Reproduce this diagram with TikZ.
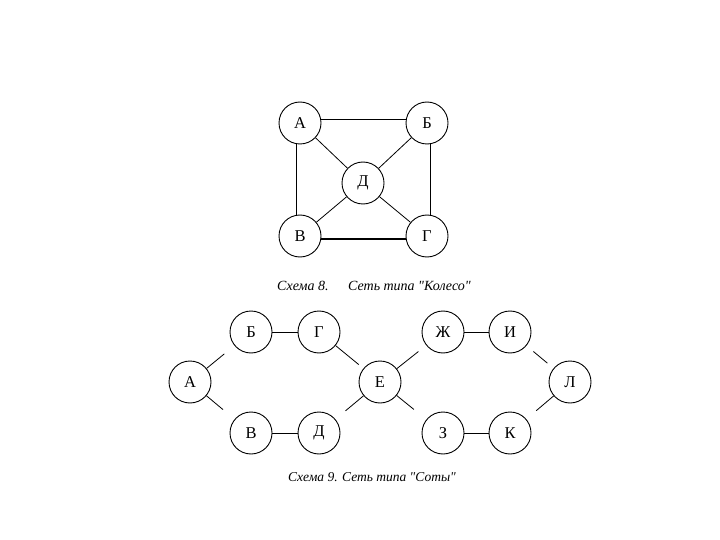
\documentclass[tikz,border=0pt]{standalone}
\usepackage{fontspec}
\setmainfont{Liberation Serif}[Ligatures=TeXOff]
\usepackage{tikz}
\tikzset{
  member/.style={circle, draw, line width=0.9pt, minimum size=42pt, inner sep=0pt,
    font=\fontsize{16.5}{16.5}\selectfont},
  link/.style={line width=0.8pt},
  rim/.style={line width=1.5pt},
  caption/.style={font=\itshape\fontsize{14}{14}\selectfont, inner sep=0pt}
}
\begin{document}
\begin{tikzpicture}[x=1pt,y=-1pt]
    \useasboundingbox (0,0) rectangle (720,540);
    % Schema 8: wheel
    \node[member] (a) at (300,123) {А};
    \node[member] (b) at (427,123) {Б};
    \node[member] (d) at (363,183) {Д};
    \node[member] (v) at (300,236) {В};
    \node[member] (g) at (427,236) {Г};
    \draw[rim] (a.10) -- (b.170);
    \draw[rim] (a.260) -- (v.100);
    \draw[rim] (b.280) -- (g.80);
    \draw[rim] (v.-8) -- (g.188);
    \foreach \n in {a,b,v,g}
      \draw[link] (\n) -- (d);
    \node[caption, anchor=west] (cap8a) at (277,286) {Схема 8.};
    \node[caption, anchor=west] (cap8b) at (348,286) {Сеть типа "Колесо"};
    % Schema 9: honeycomb
    \node[member] (sa) at (190,382) {А};
    \node[member] (sb) at (251,332) {Б};
    \node[member] (sg) at (319,332) {Г};
    \node[member] (sv) at (251,433) {В};
    \node[member] (sd) at (319,433) {Д};
    \node[member] (se) at (380,382) {Е};
    \node[member] (szh) at (443,332) {Ж};
    \node[member] (si) at (510,332) {И};
    \node[member] (sz) at (443,433) {З};
    \node[member] (sk) at (510,433) {К};
    \node[member] (sl) at (570,382) {Л};
    \draw[link] (sb) -- (sg);
    \draw[link] (sv) -- (sd);
    \draw[link] (szh) -- (si);
    \draw[link] (sz) -- (sk);
    \draw[link, shorten >=13pt] (sa) -- (sb);
    \draw[link, shorten >=15pt] (sa) -- (sv);
    \draw[link, shorten >=6pt] (sg) -- (se);
    \draw[link, shorten <=13pt] (sd) -- (se);
    \draw[link, shorten >=10pt] (se) -- (szh);
    \draw[link, shorten >=16pt] (se) -- (sz);
    \draw[link, shorten <=9pt, shorten >=8pt] (si) -- (sl);
    \draw[link, shorten <=13pt] (sk) -- (sl);
    \node[caption, font=\itshape\fontsize{13.5}{13.5}\selectfont] (cap9) at (372,477) {Схема 9. Сеть типа "Соты"};
\end{tikzpicture}
\end{document}
